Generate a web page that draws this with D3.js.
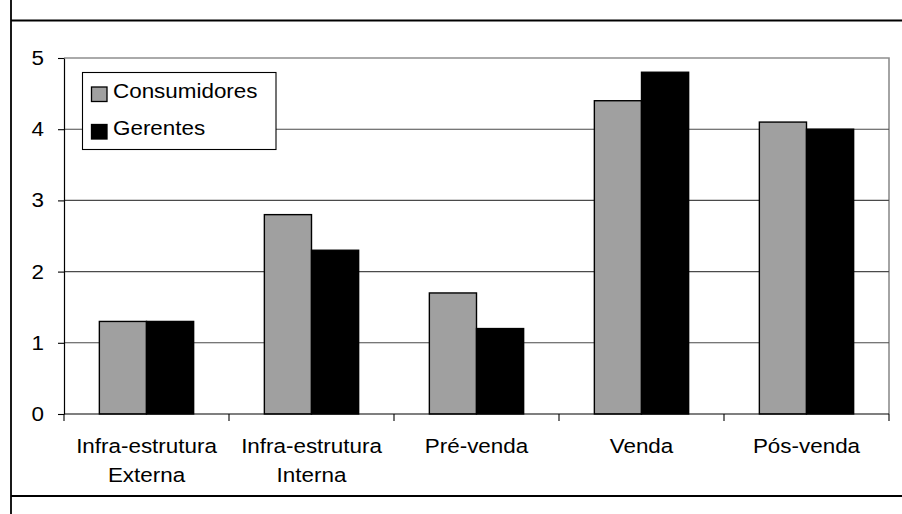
<!DOCTYPE html>
<html>
<head>
<meta charset="utf-8">
<script src="https://cdn.jsdelivr.net/npm/d3@7/dist/d3.min.js"></script>
<style>
  html, body { margin: 0; padding: 0; background: #fff; }
  svg { display: block; font-family: "Liberation Sans", Arial, sans-serif; }
</style>
</head>
<body>
<svg id="chart" width="902" height="514"></svg>
<script>
// Categories (two-line labels), series names and values
const categories = ["Infra-estrutura\nExterna", "Infra-estrutura\nInterna", "Pré-venda", "Venda", "Pós-venda"];
const seriesNames = ["Consumidores", "Gerentes"];
const consumidores = [1.3, 2.8, 1.7, 4.4, 4.1];
const gerentes = [1.3, 2.3, 1.2, 4.8, 4.0];
const yTicks = [0, 1, 2, 3, 4, 5];
const seriesColors = ["#a0a0a0", "#000000"];

const W = 902, H = 514;
const plot = { left: 64, right: 889, top: 58, bottom: 414 };
const fontSize = 19.5, stretch = 1.15;

const svg = d3.select("#chart");

// Text helper: wide Arial-style glyphs, stretched horizontally about the anchor
function label(parent, x, y, str, anchor) {
  const g = parent.append("g").attr("transform", `translate(${x},${y})`);
  g.append("text")
    .attr("transform", `scale(${stretch},1)`)
    .attr("text-anchor", anchor || "start")
    .attr("font-size", fontSize)
    .attr("fill", "#000")
    .text(str);
  return g;
}

// Outer chart frame
svg.append("line").attr("x1", 11).attr("x2", 11).attr("y1", 0).attr("y2", H)
  .attr("stroke", "#000").attr("stroke-width", 1.8);
svg.append("line").attr("x1", 11).attr("x2", W).attr("y1", 20.5).attr("y2", 20.5)
  .attr("stroke", "#000").attr("stroke-width", 1.8);
svg.append("line").attr("x1", 11).attr("x2", W).attr("y1", 496).attr("y2", 496)
  .attr("stroke", "#000").attr("stroke-width", 1.8);

// Scales
const x0 = d3.scaleBand().domain(categories).range([plot.left, plot.right]).paddingInner(0).paddingOuter(0);
const x1 = d3.scaleBand().domain(seriesNames).range([0, x0.bandwidth()]).paddingInner(0).paddingOuter(0.75);
const y = d3.scaleLinear().domain([0, 5]).range([plot.bottom, plot.top]);

// Plot area border (top / right)
svg.append("path")
  .attr("d", `M${plot.left},${y(5)}H${plot.right}V${plot.bottom}`)
  .attr("fill", "none").attr("stroke", "#8e8e8e").attr("stroke-width", 1.6);

// Horizontal gridlines
svg.append("g").selectAll("line").data(yTicks.filter(t => t > 0 && t < 5)).join("line")
  .attr("x1", plot.left).attr("x2", plot.right)
  .attr("y1", d => y(d)).attr("y2", d => y(d))
  .attr("stroke", "#4a4a4a").attr("stroke-width", 1.1);

// Bars
const data = categories.map((c, i) => ({ cat: c, vals: [consumidores[i], gerentes[i]] }));
const groups = svg.append("g").selectAll("g").data(data).join("g")
  .attr("transform", d => `translate(${x0(d.cat)},0)`);
groups.selectAll("rect").data(d => d.vals.map((v, j) => ({ name: seriesNames[j], v, j }))).join("rect")
  .attr("x", d => x1(d.name))
  .attr("width", x1.bandwidth())
  .attr("y", d => y(d.v))
  .attr("height", d => y(0) - y(d.v))
  .attr("fill", d => seriesColors[d.j])
  .attr("stroke", "#000").attr("stroke-width", 1.4);

// Y axis
const yAxis = d3.axisLeft(y).tickValues(yTicks).tickSize(6).tickSizeOuter(0).tickFormat(d3.format("d"));
const yg = svg.append("g").attr("transform", `translate(${plot.left},0)`).call(yAxis);
yg.select(".domain").attr("stroke", "#000").attr("stroke-width", 1.2);
yg.selectAll(".tick line").attr("stroke", "#000").attr("stroke-width", 1.1);
yg.selectAll(".tick text").remove();
yTicks.forEach(t => {
  label(svg, plot.left - 20, y(t) + fontSize * 0.36, String(t), "end");
});

// X axis: baseline, boundary ticks and centered category labels
svg.append("line").attr("x1", plot.left).attr("x2", plot.right)
  .attr("y1", y(0)).attr("y2", y(0)).attr("stroke", "#000").attr("stroke-width", 1.2);
const bounds = categories.map(c => x0(c)).concat([x0.range()[1]]);
svg.append("g").selectAll("line").data(bounds).join("line")
  .attr("x1", d => d).attr("x2", d => d)
  .attr("y1", y(0)).attr("y2", y(0) + 7)
  .attr("stroke", "#000").attr("stroke-width", 1.1);
categories.forEach(c => {
  const cx = x0(c) + x0.bandwidth() / 2;
  c.split("\n").forEach((line, k) => {
    label(svg, cx, 452.5 + k * 29, line, "middle");
  });
});

// Legend
const lg = svg.append("g");
lg.append("rect").attr("x", 82.5).attr("y", 72.5).attr("width", 193.5).attr("height", 77)
  .attr("fill", "#fff").attr("stroke", "#000").attr("stroke-width", 1.1);
seriesNames.forEach((name, i) => {
  const yy = 87 + i * 37.5;
  lg.append("rect").attr("x", 91.5).attr("y", yy).attr("width", 15.5).attr("height", 14.5)
    .attr("fill", seriesColors[i]).attr("stroke", "#000").attr("stroke-width", 1.3);
  label(lg, 113, yy + 10.5, name, "start");
});
</script>
</body>
</html>
